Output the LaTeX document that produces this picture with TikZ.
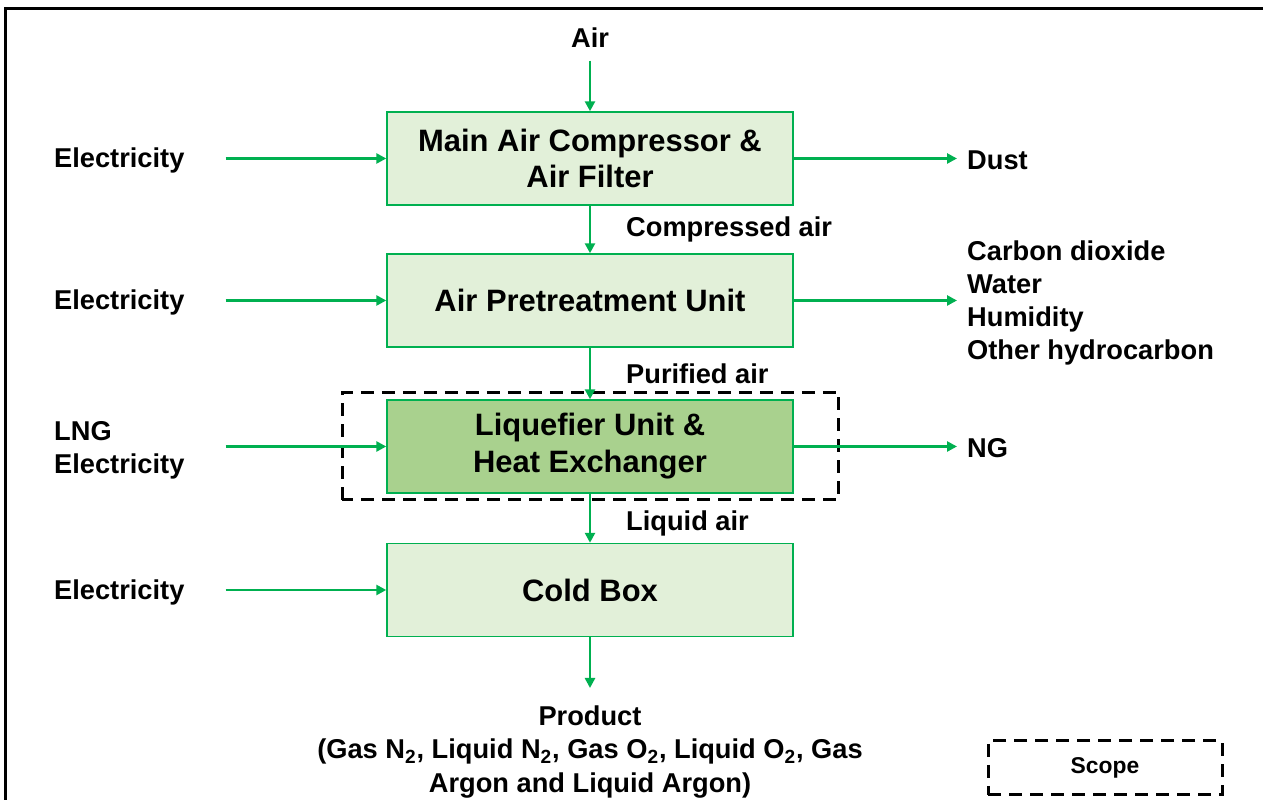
\documentclass[tikz,border=0pt]{standalone}
\usepackage{fontspec}
\setmainfont{Liberation Sans}
\usetikzlibrary{arrows.meta,positioning,calc}
\definecolor{flowgreen}{HTML}{00B050}
\definecolor{unitfill}{HTML}{E2F0D9}
\definecolor{unitdark}{HTML}{A9D18E}

\begin{document}
\begin{tikzpicture}[>={Triangle[length=.2cm,width=.2cm]},
  unit/.style={draw=flowgreen,line width=.8pt,fill=unitfill,minimum width=8.12cm,minimum height=1.86cm,align=center,font=\fontsize{17.6}{21}\selectfont\bfseries},
  lbl/.style={font=\fontsize{15.5}{18.8}\selectfont\bfseries,align=left,yshift=-.05cm},
  flow/.style={->,flowgreen,line width=.05cm},
  scopeline/.style={dash pattern=on .26cm off .16cm,line width=.06cm}]
\useasboundingbox(0,0)rectangle(25.26,16);
\draw[line width=.06cm](.12,-.3)--(.12,15.82)--(25.6,15.82);
% process units
\node[unit](mac)at(11.8,12.83){Main Air Compressor \&\\Air Filter};
\node[unit](apu)at(11.8,9.99){Air Pretreatment Unit};
\node[unit,fill=unitdark](liq)at(11.8,7.07){Liquefier Unit \&\\Heat Exchanger};
\node[unit](cold)at(11.8,4.2){Cold Box};
\draw[scopeline]($(liq.south west)+(-.88,-.12)$)rectangle($(liq.north east)+(.9,.14)$);
% inputs and outputs
\node[lbl](air)at(11.8,15.3){Air};
\node[lbl,anchor=west](el1)at(.96,12.84){Electricity};
\node[lbl,anchor=west](el2)at(.96,10){Electricity};
\node[lbl,anchor=west](el3)at(.96,7.05){LNG\\Electricity};
\node[lbl,anchor=west](el4)at(.96,4.2){Electricity};
\node[lbl,anchor=west](dust)at(19.22,12.84){Dust};
\node[lbl,anchor=west](gases)at(19.22,9.99){Carbon dioxide\\Water\\Humidity\\Other hydrocarbon};
\node[lbl,anchor=west](ng)at(19.22,7.08){NG};
\node[lbl,align=center](product)at(11.8,1.01){Product\\(Gas N\textsubscript{2}, Liquid N\textsubscript{2}, Gas O\textsubscript{2}, Liquid O\textsubscript{2}, Gas\\Argon and Liquid Argon)};
\node[lbl,anchor=west](compressed)at(12.4,11.46){Compressed air};
\node[lbl,anchor=west](purified)at(12.4,8.58){Purified air};
\node[lbl,anchor=west](liquid)at(12.4,5.58){Liquid air};
% flows
\draw[flow,shorten <=.14cm](air)--(mac);
\draw[flow](mac)--(apu);
\draw[flow](apu)--(liq);
\draw[flow](liq)--(cold);
\draw[flow,shorten >=.24cm](cold)--(product);
\foreach \src/\dst in {el1/mac,el2/apu,el3/liq,el4/cold}
  \draw[flow,shorten <=.7cm](\src.east|-\dst.west)--(\dst.west);
\foreach \src/\dst in {mac/dust,apu/gases,liq/ng}
  \draw[flow,shorten >=.08cm](\src.east)--(\src.east-|\dst.west);
% legend
\node[scopeline,draw,minimum width=4.68cm,minimum height=1.08cm,font=\fontsize{13}{15}\selectfont\bfseries](legend)at(22.1,.64){Scope};
\end{tikzpicture}
\end{document}
